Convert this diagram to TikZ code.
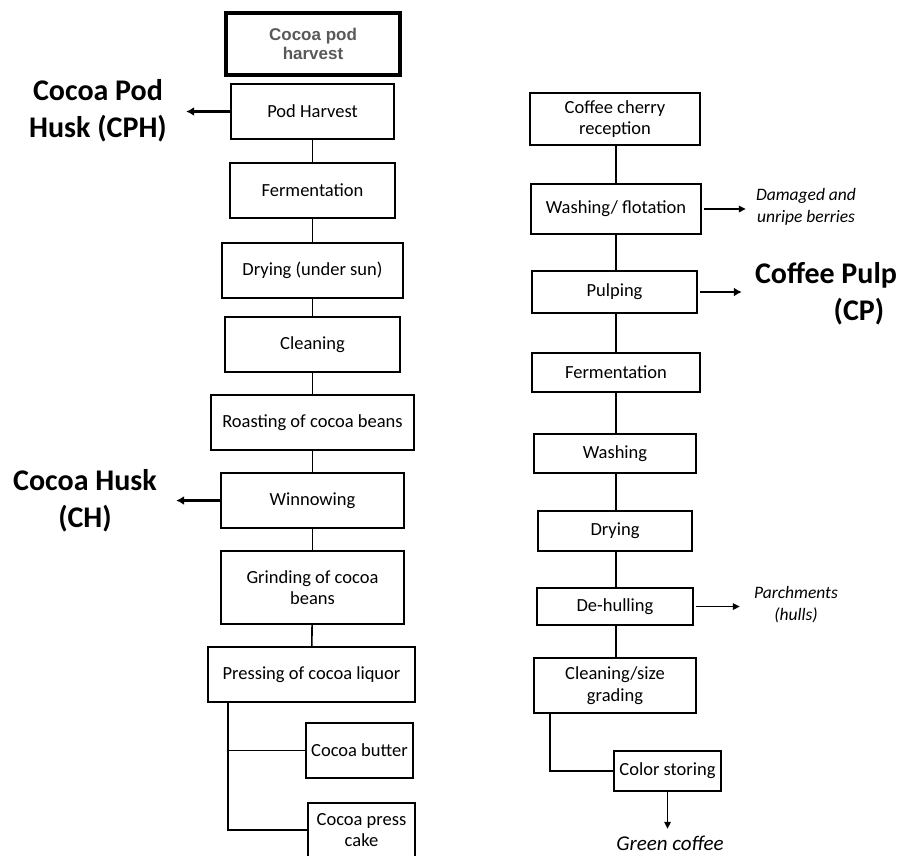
\documentclass[tikz,border=0pt]{standalone}
\usepackage{fontspec}
\setmainfont{Carlito}
\newfontfamily\arialfont{Liberation Sans}
\usetikzlibrary{arrows.meta}
\definecolor{topgray}{HTML}{595959}
\tikzset{
  stepbox/.style={draw, line width=1.6pt, align=center, inner sep=0pt,
    font=\fontsize{18.5}{21.5}\selectfont},
  topbox/.style={draw, line width=3.2pt, align=center, inner sep=0pt,
    font=\arialfont\bfseries\fontsize{17}{19}\selectfont, text=topgray},
  link/.style={line width=1.6pt},
  thinarrow/.style={line width=1.5pt, -{Triangle[length=7pt,width=6.5pt]}},
  thickarrow/.style={line width=2.8pt, -{Latex[length=8pt,width=9pt]}},
  biglabel/.style={align=center, inner sep=0pt, font=\bfseries\fontsize{30}{37}\selectfont},
  sidelabel/.style={align=center, inner sep=0pt, font=\itshape\fontsize{17.5}{22}\selectfont},
}
\begin{document}
\begin{tikzpicture}[x=1pt,y=-1pt]
\useasboundingbox (0,0) rectangle (901,855);
% left column
\node[topbox, minimum width=174pt, minimum height=62pt] (top) at (313,44) {Cocoa pod\\harvest};
\node[stepbox, minimum width=163pt, minimum height=55pt] (pod) at (312.5,111.5) {Pod Harvest};
\node[stepbox, minimum width=165pt, minimum height=55pt] (ferm) at (312.5,190.5) {Fermentation};
\node[stepbox, minimum width=181pt, minimum height=55pt] (dry) at (312.5,270.5) {Drying (under sun)};
\node[stepbox, minimum width=175pt, minimum height=55pt] (clean) at (312.5,344.5) {Cleaning};
\node[stepbox, minimum width=203pt, minimum height=55pt] (roast) at (312.5,422.5) {Roasting of cocoa beans};
\node[stepbox, minimum width=183pt, minimum height=55pt] (winn) at (312.5,500.5) {Winnowing};
\node[stepbox, minimum width=183pt, minimum height=73pt] (grind) at (312.5,587.5) {Grinding of cocoa\\beans};
\node[stepbox, minimum width=207pt, minimum height=55pt] (press) at (311.5,674.5) {Pressing of cocoa liquor};
\node[stepbox, minimum width=107pt, minimum height=55pt] (butter) at (359.5,750.5) {Cocoa butter};
\node[stepbox, minimum width=107pt, minimum height=54pt] (cake) at (361.5,830) {Cocoa press\\cake};

\draw[link] (pod) -- (ferm);
\draw[link] (ferm) -- (dry);
\draw[link] (dry) -- (clean);
\draw[link] (clean) -- (roast);
\draw[link] (roast) -- (winn);
\draw[link] (winn) -- (grind);
\draw[link] (grind) -- (press);
\coordinate (br) at ([xshift=21pt]press.south west);
\draw[link] (br) |- (butter.west);
\draw[link] (br) |- (cake.west);

\node[biglabel] (cph) at (98,111) {Cocoa Pod\\Husk (CPH)};
\coordinate (cphend) at ([xshift=-44pt]pod.west);
\draw[thickarrow] (pod.west) -- (cphend);
\node[biglabel] (ch) at (85,501) {Cocoa Husk\\(CH)};
\coordinate (chend) at ([xshift=-44pt]winn.west);
\draw[thickarrow] (winn.west) -- (chend);

% right column
\node[stepbox, minimum width=170pt, minimum height=52pt] (cherry) at (615,119) {Coffee cherry\\reception};
\node[stepbox, minimum width=170pt, minimum height=50pt] (flot) at (616,209) {Washing/ flotation};
\node[stepbox, minimum width=165pt, minimum height=42pt] (pulp) at (614.5,292) {Pulping};
\node[stepbox, minimum width=168pt, minimum height=39pt] (ferm2) at (616,372.5) {Fermentation};
\node[stepbox, minimum width=162pt, minimum height=39pt] (wash) at (615,453.5) {Washing};
\node[stepbox, minimum width=154pt, minimum height=40pt] (dry2) at (615,531) {Drying};
\node[stepbox, minimum width=156pt, minimum height=37pt] (dehull) at (615,606.5) {De-hulling};
\node[stepbox, minimum width=162pt, minimum height=55pt] (grade) at (615,685.5) {Cleaning/size\\grading};
\node[stepbox, minimum width=107pt, minimum height=40pt] (color) at (667.5,771) {Color storing};

\draw[link] (cherry.south -| 616,0) -- (flot.north -| 616,0);
\draw[link] (flot.south -| 616,0) -- (pulp.north -| 616,0);
\draw[link] (pulp.south -| 616,0) -- (ferm2.north -| 616,0);
\draw[link] (ferm2.south -| 616,0) -- (wash.north -| 616,0);
\draw[link] (wash.south -| 616,0) -- (dry2.north -| 616,0);
\draw[link] (dry2.south -| 616,0) -- (dehull.north -| 616,0);
\draw[link] (dehull.south -| 616,0) -- (grade.north -| 616,0);
\coordinate (br2) at ([xshift=17pt]grade.south west);
\draw[link] (br2) |- (color.west);

\node[sidelabel] (damaged) at (806,207) {Damaged and\\unripe berries};
\coordinate (damstart) at ([xshift=2pt]flot.east);
\coordinate (damend) at ([xshift=44pt]flot.east);
\draw[thinarrow] (damstart) -- (damend);

\node[biglabel] (cp) at (826,294) {Coffee Pulp\\\hspace*{2.2em}(CP)};
\coordinate (cpstart) at ([xshift=2pt]pulp.east);
\coordinate (cpend) at ([xshift=44pt]pulp.east);
\draw[thickarrow] (cpstart) -- (cpend);

\node[sidelabel] (parch) at (796,605) {Parchments\\(hulls)};
\coordinate (parstart) at ([xshift=2pt]dehull.east);
\coordinate (parend) at ([xshift=46pt]dehull.east);
\draw[thinarrow] (parstart) -- (parend);

\node[sidelabel, font=\itshape\fontsize{21}{25}\selectfont] (green) at (670,843) {Green coffee};
\coordinate (greenend) at ([yshift=-37pt]color.south);
\draw[thinarrow] (color.south) -- (greenend);
\end{tikzpicture}
\end{document}
